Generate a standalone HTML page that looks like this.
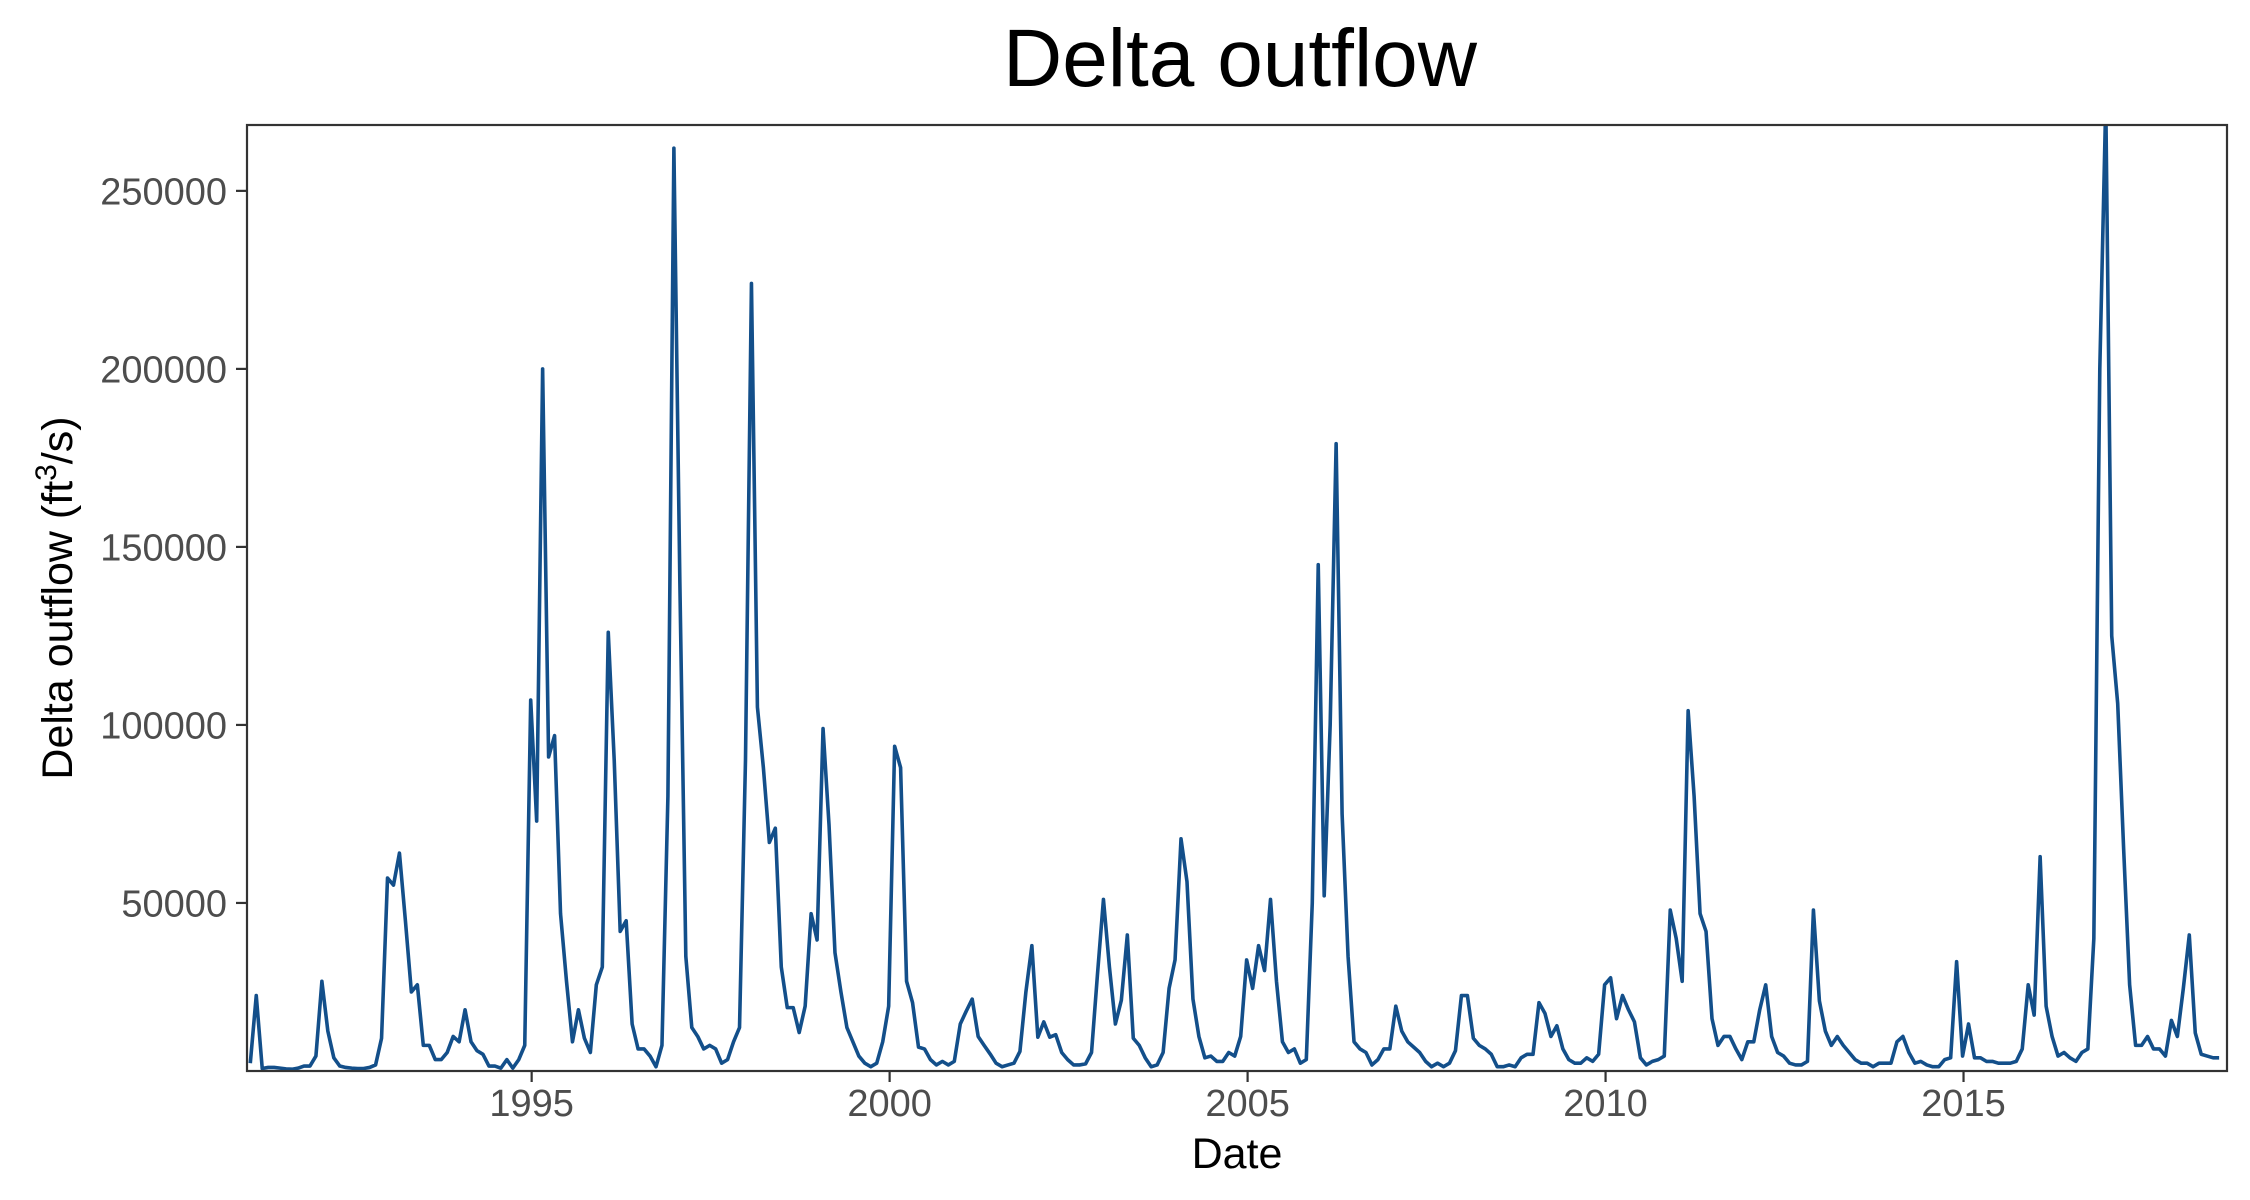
<!DOCTYPE html>
<html><head><meta charset="utf-8"><style>
html,body{margin:0;padding:0;background:#fff;}
svg{display:block;font-family:"Liberation Sans",Arial,sans-serif;}
</style></head><body>
<svg id="chart" width="2250" height="1200" viewBox="0 0 2250 1200">
<text x="1240" y="86" font-size="82" text-anchor="middle" fill="#000">Delta outflow</text>
<text x="1237" y="1168" font-size="43" text-anchor="middle" fill="#000">Date</text>
<text transform="translate(72,598) rotate(-90)" font-size="43" text-anchor="middle" fill="#000">Delta outflow (ft<tspan dy="-16" font-size="30">3</tspan><tspan dy="16">/s)</tspan></text>
<g id="plot"></g>
</svg>
<script>
const startYear = 1991.07;
const flowValues = [
5000,24000,3500,3800,3800,3600,3400,3300,3600,4200,4200,7000,
28000,14000,6500,4200,3800,3600,3500,3500,3800,4500,12000,57000,
55000,64000,45000,25000,27000,10000,10000,6000,6000,8000,12500,11000,
20000,11000,8500,7500,4200,4200,3600,6000,3600,6000,10000,107000,
73000,200000,91000,97000,47000,28000,11000,20000,12000,8000,27000,32000,
126000,90000,42000,45000,16000,9000,9000,7000,4000,10000,80000,262000,
140000,35000,15000,12500,9000,10000,9000,5000,6000,11000,15000,90000,
224000,105000,88000,67000,71000,32000,20600,20600,13600,21000,47000,39600,
99000,72000,36000,25000,15000,11000,7000,5000,4000,5000,11000,21000,
94000,88000,28000,22000,9500,9000,6000,4500,5500,4500,5500,16000,
19600,23000,12500,10000,7600,5000,4000,4500,5000,8300,25000,38000,
12300,16600,12300,13000,8000,6000,4500,4500,4800,8000,30000,51000,
32000,16000,22700,41000,12000,10000,6500,4000,4500,8000,26000,34000,
68000,56000,23000,12500,6500,7000,5500,5500,8000,7000,12500,34000,
26000,38000,31000,51000,28000,11000,8000,9000,5000,6000,50000,145000,
52000,100000,179000,75000,35000,11000,9000,8000,4500,6000,9000,9000,
21000,14000,11000,9500,8000,5500,4000,5000,4000,5000,8500,24000,
24000,12000,10000,9000,7500,4000,4000,4500,4000,6500,7500,7500,
22000,19000,12500,15500,9000,6000,5000,5000,6500,5500,7500,27000,
29000,17500,24000,20000,16600,6500,4500,5500,6000,7000,48000,40000,
28000,104000,80000,47000,42000,17500,10000,12500,12500,9000,6000,11000,
11000,20000,27000,12500,8000,7000,5000,4500,4500,5500,48000,22500,
14000,10000,12500,10000,8000,6000,5000,5000,4000,5000,5000,5000,
11000,12500,8000,5000,5500,4500,4000,4000,6000,6500,33500,7000,
16000,6500,6500,5500,5500,5000,5000,5000,5500,9000,27000,18500,
63000,21000,12500,7000,8000,6500,5500,8000,9000,40000,200000,275000,
125000,106000,65000,27000,10000,10000,12500,9000,9000,7000,17000,12500,
26000,41000,13500,7500,7000,6500,6500
];
const yTickValues = [50000,100000,150000,200000,250000];
const yTickLabels = ["50000","100000","150000","200000","250000"];
const xTickYears = [1995,2000,2005,2010,2015];
const xTickLabels = ["1995","2000","2005","2010","2015"];

const L=247,R=2227,T=125,B=1071;
const xMin=1991.024,xMax=2018.68,yMin=2800,yMax=268500;
function xs(t){return L+(t-xMin)/(xMax-xMin)*(R-L);}
function ys(v){return B-(v-yMin)/(yMax-yMin)*(B-T);}
const NS="http://www.w3.org/2000/svg";
const g=document.getElementById('plot');
function mk(tag,attrs,parent){const e=document.createElementNS(NS,tag);for(const k in attrs)e.setAttribute(k,attrs[k]);(parent||g).appendChild(e);return e;}

const defs=mk('defs',{});
const cp=mk('clipPath',{id:'clip'},defs);
mk('rect',{x:L,y:T,width:R-L,height:B-T},cp);

let d='';
flowValues.forEach((v,i)=>{const t=startYear+i/12;d+=(i?'L':'M')+xs(t).toFixed(2)+','+ys(v).toFixed(2);});
const line=mk('path',{d:d,fill:'none',stroke:'#134f8a','stroke-width':3.6,'stroke-linejoin':'round','clip-path':'url(#clip)'});



const border=mk('rect',{x:L,y:T,width:R-L,height:B-T,fill:'none',stroke:'#333','stroke-width':2.2});



yTickValues.forEach((v,i)=>{
  const y=ys(v);
  const tk=mk('line',{x1:L-11,x2:L,y1:y,y2:y,stroke:'#333','stroke-width':2.2});
  
  
  const tx=mk('text',{x:L-20,y:y+13.5,'font-size':38,'text-anchor':'end',fill:'#4d4d4d'});
  tx.textContent=yTickLabels[i];
  
  
});
xTickYears.forEach((yr,i)=>{
  const x=xs(yr);
  const tk=mk('line',{x1:x,x2:x,y1:B,y2:B+11,stroke:'#333','stroke-width':2.2});
  
  
  const tx=mk('text',{x:x,y:1116,'font-size':38,'text-anchor':'middle',fill:'#4d4d4d'});
  tx.textContent=xTickLabels[i];
  
  
});
</script>
</body></html>
